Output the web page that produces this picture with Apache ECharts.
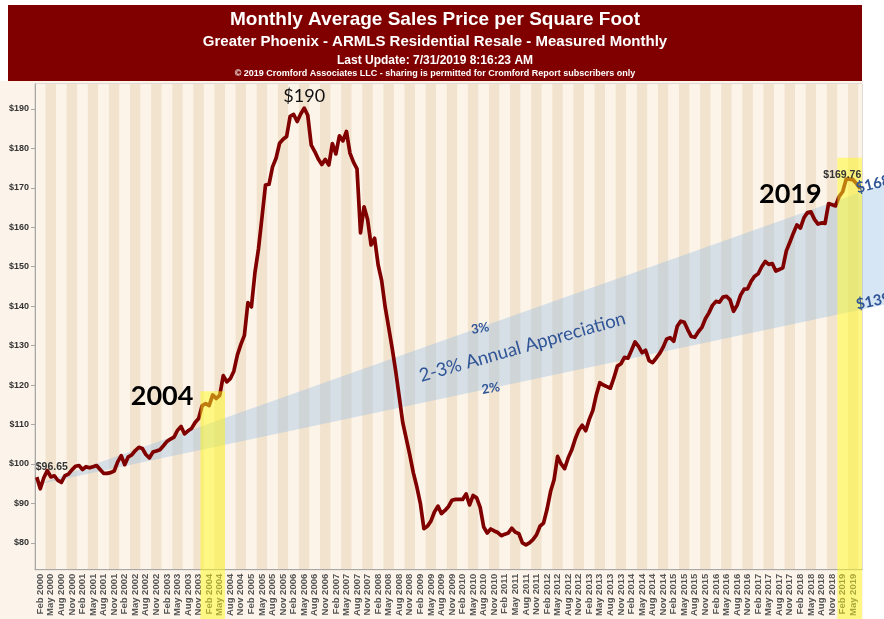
<!DOCTYPE html>
<html>
<head>
<meta charset="utf-8">
<title>Monthly Average Sales Price per Square Foot</title>
<script src="https://cdn.jsdelivr.net/npm/echarts@6/dist/echarts.min.js"></script>
<style>
  html, body { margin: 0; padding: 0; background: #fff; }
  #main { width: 884px; height: 619px; }
</style>
</head>
<body>
<div id="main"></div>
<script>
// months Jan 2000 .. Jul 2019
const monthNames = ['Jan', 'Feb', 'Mar', 'Apr', 'May', 'Jun', 'Jul', 'Aug', 'Sep', 'Oct', 'Nov', 'Dec'];
const months = [];
for (let y = 2000; y <= 2019; y++) {
  for (let m = 0; m < 12; m++) {
    if (y === 2019 && m > 6) break;
    months.push(monthNames[m] + ' ' + y);
  }
}

// average $/sqft, one row per year
const avgPrice = [
  96.65, 93.7, 96.5, 98.3, 96.7, 97.0, 95.8, 95.3, 97.0, 97.4, 98.5, 99.4,
  99.6, 98.6, 99.3, 99.0, 99.3, 99.6, 98.6, 97.6, 97.6, 97.8, 98.2, 100.5,
  102.1, 99.8, 101.8, 102.3, 103.4, 104.2, 103.9, 102.4, 101.5, 103.0, 103.3, 103.6,
  104.6, 105.7, 106.3, 106.8, 108.5, 109.5, 107.6, 108.4, 109.0, 110.5, 111.5, 114.8,
  115.3, 114.8, 117.5, 116.6, 117.4, 122.4, 120.8, 121.6, 123.5, 127.6, 130.3, 132.6,
  140.9, 139.8, 148.5, 154.5, 162.5, 170.7, 170.9, 175.3, 177.5, 181.3, 182.3, 183.0,
  188.1, 188.6, 186.8, 188.7, 190.2, 188.4, 180.8, 179.2, 177.3, 175.9, 177.2, 175.8,
  181.2, 178.6, 183.2, 181.9, 184.3, 178.8, 176.5, 174.8, 158.6, 165.2, 162.0, 155.5,
  157.2, 150.5, 146.5, 139.8, 134.6, 129.3, 123.5, 117.0, 110.5, 106.4, 102.3, 97.8,
  94.2, 90.0, 83.6, 84.2, 85.5, 87.8, 89.3, 87.4, 88.2, 89.2, 90.8, 91.0,
  91.0, 91.0, 92.4, 89.6, 92.0, 91.4, 89.0, 84.0, 82.5, 83.5, 83.0, 82.6,
  81.8, 82.2, 82.5, 83.7, 82.7, 82.3, 80.0, 79.5, 80.0, 80.8, 82.0, 84.2,
  85.0, 88.5, 93.0, 96.0, 101.9, 100.0, 98.8, 101.5, 103.5, 106.3, 108.5, 109.8,
  108.4, 111.3, 113.5, 117.5, 120.6, 120.0, 119.6, 119.2, 121.8, 124.8, 125.4, 127.0,
  126.8, 128.8, 130.9, 129.8, 128.2, 128.8, 126.2, 125.7, 126.8, 128.0, 129.6, 131.7,
  132.0, 131.1, 134.9, 136.2, 135.9, 134.0, 132.3, 132.1, 133.5, 134.6, 136.8, 138.3,
  140.2, 141.2, 141.0, 142.3, 142.5, 141.6, 138.7, 140.2, 142.8, 144.3, 144.4, 146.3,
  147.6, 148.2, 150.0, 151.3, 150.6, 150.8, 148.9, 149.3, 149.7, 154.0, 156.2, 158.5,
  160.6, 159.8, 162.4, 163.7, 163.9, 162.0, 160.8, 161.1, 161.0, 166.0, 165.7, 165.4,
  167.8, 169.0, 172.2, 172.2, 172.0, 171.0, 169.76
];

const yTicks = [80, 90, 100, 110, 120, 130, 140, 150, 160, 170, 180, 190];

// 2-3% appreciation wedge: start month/value, end month, 3% and 2% end values
const wedgeMonths = ['Jan 2000', 'Jul 2019'];
const wedgeStartValue = 94.7;
const wedgeEndValues = [168.8, 139.1];

// yellow highlight bands: first month, last month, top value
const highlightFrom = ['Dec 2003', 'Jan 2019'];
const highlightTo = ['Jun 2004', 'Jul 2019'];
const highlightTop = [118.4, 177.6];

const BLUE = '#2F5597';
const ARIAL = '"Liberation Sans", Arial, sans-serif';
const CALIBRI = 'Lato, "Open Sans", sans-serif';

const chart = echarts.init(document.getElementById('main'));

const option = {
  backgroundColor: '#FCF4EA',
  animation: false,
  grid: {
    left: 35, right: 22, top: 84, bottom: 48,
    show: true, borderColor: '#c6c2bd', borderWidth: 1
  },
  xAxis: {
    type: 'category',
    data: months,
    boundaryGap: true,
    axisLine: { lineStyle: { color: '#a8a8a8' } },
    axisTick: {
      interval: (i) => i % 3 === 1,
      alignWithLabel: true,
      length: 3,
      lineStyle: { color: '#a8a8a8' }
    },
    axisLabel: {
      interval: (i) => i % 3 === 1,
      rotate: 90,
      margin: 4,
      fontSize: 9.5,
      fontWeight: 'bold',
      fontFamily: ARIAL,
      color: '#555'
    },
    splitLine: { show: false },
    splitArea: {
      show: true,
      interval: (i) => i % 3 === 0,
      areaStyle: { color: ['#FDF4E9', '#F2E3CF'] }
    }
  },
  yAxis: {
    type: 'value',
    min: 73.17,
    max: 196.32,
    axisLine: { show: true, lineStyle: { color: '#a8a8a8' } },
    axisTick: { show: true, length: 4, customValues: yTicks, lineStyle: { color: '#a8a8a8' } },
    axisLabel: {
      customValues: yTicks,
      formatter: (v) => '$' + v,
      margin: 6,
      fontSize: 9,
      fontWeight: 'bold',
      fontFamily: ARIAL,
      color: '#333'
    },
    splitLine: { show: false }
  },
  series: [
    {
      type: 'custom',
      name: 'wedge',
      z: 2,
      clip: false,
      silent: true,
      encode: { x: [0, 2], y: [1, 3, 4] },
      data: [[months.indexOf(wedgeMonths[0]), wedgeStartValue,
              months.indexOf(wedgeMonths[1]), wedgeEndValues[0], wedgeEndValues[1]]],
      renderItem: function (params, api) {
        const p0 = api.coord([api.value(0), api.value(1)]);
        const hi = api.coord([api.value(2), api.value(3)]);
        const lo = api.coord([api.value(2), api.value(4)]);
        const w = api.getWidth();
        const ext = (p) => [w, p0[1] + (p[1] - p0[1]) * (w - p0[0]) / (p[0] - p0[0])];
        return {
          type: 'polygon',
          shape: { points: [p0, ext(hi), ext(lo)] },
          style: { fill: 'rgba(150, 190, 225, 0.38)' }
        };
      }
    },
    {
      type: 'line',
      name: 'Avg $/SqFt',
      z: 3,
      data: avgPrice,
      symbol: 'none',
      lineStyle: { color: '#800000', width: 3.7, join: 'round' }
    },
    {
      type: 'custom',
      name: 'highlight',
      z: 4,
      clip: false,
      silent: true,
      encode: { x: [0, 1], y: 2 },
      data: highlightFrom.map((m, i) => [months.indexOf(m), months.indexOf(highlightTo[i]), highlightTop[i]]),
      renderItem: function (params, api) {
        const half = api.size([1, 0])[0] / 2;
        const a = api.coord([api.value(0), api.value(2)]);
        const b = api.coord([api.value(1), api.value(2)]);
        return {
          type: 'rect',
          shape: { x: a[0] - half, y: a[1], width: b[0] - a[0] + 2 * half, height: api.getHeight() - a[1] },
          style: { fill: 'rgba(255, 250, 30, 0.5)' }
        };
      }
    }
  ]
};

chart.setOption(option);

// annotations placed from data coordinates
const toPx = (m, v) => chart.convertToPixel({ xAxisIndex: 0, yAxisIndex: 0 }, [m, v]);
const bw = toPx(months[1], 100)[0] - toPx(months[0], 100)[0];

const w0 = toPx(wedgeMonths[0], wedgeStartValue);
const wHi = toPx(wedgeMonths[1], wedgeEndValues[0]);
const wLo = toPx(wedgeMonths[1], wedgeEndValues[1]);
const lineY = (p, x) => w0[1] + (p[1] - w0[1]) * (x - w0[0]) / (p[0] - w0[0]);
const midAngle = Math.atan2(w0[1] - (wHi[1] + wLo[1]) / 2, wHi[0] - w0[0]);

const peak = toPx('May 2006', 190.2);
const first = toPx(months[0], avgPrice[0]);
const last = toPx(months[months.length - 1], avgPrice[avgPrice.length - 1]);
const band1 = toPx(highlightFrom[0], highlightTop[0]);
const dec2018 = toPx('Dec 2018', 165.4);
const x3 = toPx('Jul 2010', 100)[0];
const x2 = toPx('Oct 2010', 100)[0];
const xMid = toPx('Jul 2011', 100)[0];

function txt(x, y, text, font, fill, align, vAlign, rot) {
  return {
    type: 'text', x: x, y: y, z: 100, rotation: rot || 0, silent: true,
    style: { text: text, font: font, fill: fill, align: align || 'center', verticalAlign: vAlign || 'middle' }
  };
}

chart.setOption({
  graphic: [
    { type: 'rect', z: 0, silent: true, shape: { x: 0, y: 0, width: 884, height: 81 }, style: { fill: '#fff' } },
    { type: 'rect', z: 0, silent: true, shape: { x: 863, y: 0, width: 21, height: 619 }, style: { fill: '#fff' } },
    { type: 'rect', z: 1, silent: true, shape: { x: 8, y: 5, width: 854, height: 76 }, style: { fill: '#800000' } },
    txt(435, 20, 'Monthly Average Sales Price per Square Foot', 'bold 19px ' + ARIAL, '#fff'),
    txt(435, 42, 'Greater Phoenix - ARMLS Residential Resale - Measured Monthly', 'bold 15px ' + ARIAL, '#fff'),
    txt(435, 61, 'Last Update: 7/31/2019 8:16:23 AM', 'bold 12px ' + ARIAL, '#fff'),
    txt(435, 74, '\u00A9 2019 Cromford Associates LLC - sharing is permitted for Cromford Report subscribers only', 'bold 9px ' + ARIAL, '#fff'),

    txt(peak[0], peak[1] - 12, '$190', '18px ' + CALIBRI, '#111'),
    txt(first[0] - 1, first[1] - 10, '$96.65', 'bold 10.5px ' + ARIAL, '#333', 'left'),
    txt(last[0] + 1, last[1] - 14, '$169.76', 'bold 10.5px ' + ARIAL, '#333', 'right'),
    txt(band1[0] - bw / 2 - 7, band1[1] + 5, '2004', 'bold 27px ' + CALIBRI, '#000', 'right'),
    txt(dec2018[0] - 14, dec2018[1] - 12, '2019', 'bold 27px ' + CALIBRI, '#000', 'right'),

    txt(x3, lineY(wHi, x3) + 1, '3%', 'bold 13px ' + CALIBRI, BLUE, 'center', 'middle', 0.17),
    txt(x2, lineY(wLo, x2), '2%', 'bold 13px ' + CALIBRI, BLUE, 'center', 'middle', 0.17),
    txt(xMid, (lineY(wHi, xMid) + lineY(wLo, xMid)) / 2, '2-3% Annual Appreciation', '18.5px ' + CALIBRI, BLUE, 'center', 'middle', midAngle),
    txt(wHi[0] - 4, wHi[1] - 4, '$168', 'bold 15px ' + CALIBRI, BLUE, 'left', 'middle', 0.25),
    txt(wLo[0] - 4, wLo[1] - 5, '$139', 'bold 15px ' + CALIBRI, BLUE, 'left', 'middle', 0.2)
  ]
});
</script>
</body>
</html>
